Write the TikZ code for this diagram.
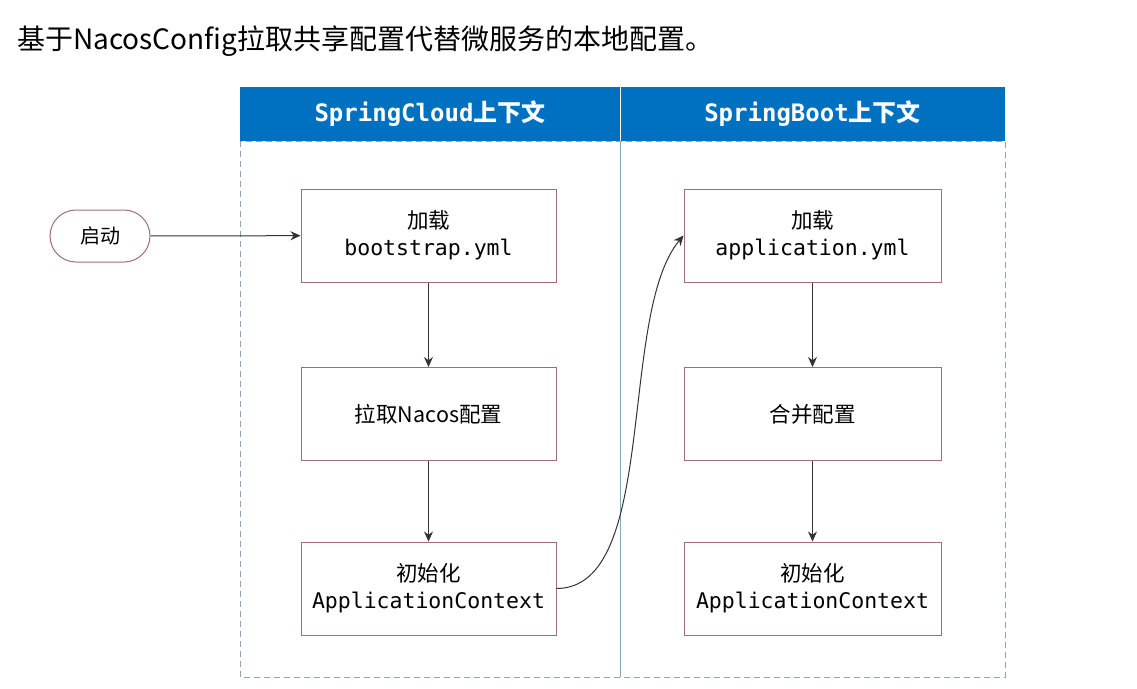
\documentclass[tikz,border=0pt]{standalone}
\usepackage{fontspec}
\setmainfont{Noto Sans CJK SC}
\setmonofont{DejaVu Sans Mono}
\usepackage{xcolor}
\usetikzlibrary{arrows.meta}

\definecolor{headblue}{RGB}{0,112,192}
\definecolor{lanegray}{RGB}{140,165,180}
\definecolor{boxrim}{RGB}{160,110,118}

\tikzset{
  stepbox/.style={draw=boxrim, line width=1pt, minimum width=255pt, minimum height=93pt,
    align=center, inner sep=0pt, font=\fontsize{21.5}{27}\selectfont},
  startbox/.style={draw=boxrim, line width=1pt, rounded corners=26pt, minimum width=100pt,
    minimum height=52pt, font=\fontsize{20}{24}\selectfont},
  lanehead/.style={fill=headblue, text=white, minimum height=54pt, inner sep=0pt,
    font=\fontsize{24}{26}\selectfont\bfseries},
  lane/.style={draw=lanegray, line width=1pt, dash pattern=on 6pt off 4pt},
  flow/.style={->, line width=1pt, black!80},
}

\begin{document}
\begin{tikzpicture}[x=1pt, y=-1pt, >={Stealth[length=10pt, width=9pt]}]
        \useasboundingbox (0,0) rectangle (1137,688);

        % Title
        \node[anchor=west, inner sep=0pt, font=\fontsize{28}{32}\selectfont] (title) at (17,41)
            {基于NacosConfig拉取共享配置代替微服务的本地配置。};

        % Swim lanes
        \draw[lane] (240,141) rectangle (620,677);
        \draw[lane] (620,141) rectangle (1005,677);

        % Lane headers
        \node[lanehead, minimum width=380pt] (hdcloud) at (430,114) {{\ttfamily SpringCloud}上下文};
        \node[lanehead, minimum width=385pt] (hdboot) at (812.5,114) {{\ttfamily SpringBoot}上下文};
        \draw[white, line width=1pt] (hdcloud.north east) -- (hdcloud.south east);

        % Start
        \node[startbox] (start) at (100,236) {启动};

        % SpringCloud steps
        \node[stepbox] (cload) at (428.5,235.5) {加载\\\ttfamily bootstrap.yml};
        \node[stepbox] (cpull) at (428.5,414) {拉取Nacos配置};
        \node[stepbox] (cinit) at (428.5,588.5) {初始化\\\ttfamily ApplicationContext};

        % SpringBoot steps
        \node[stepbox, minimum width=257pt] (bload) at (812.5,235.5) {加载\\\ttfamily application.yml};
        \node[stepbox, minimum width=257pt] (bmerge) at (812.5,414) {合并配置};
        \node[stepbox, minimum width=257pt] (binit) at (812.5,588.5) {初始化\\\ttfamily ApplicationContext};

        % Connectors
        \draw[flow] (start) -- (cload);
        \draw[flow] (cload) -- (cpull);
        \draw[flow] (cpull) -- (cinit);
        \draw[flow] (cinit.east) to[out=0, in=230, looseness=0.7] (bload.west);
        \draw[flow] (bload) -- (bmerge);
        \draw[flow] (bmerge) -- (binit);
    \end{tikzpicture}
\end{document}
